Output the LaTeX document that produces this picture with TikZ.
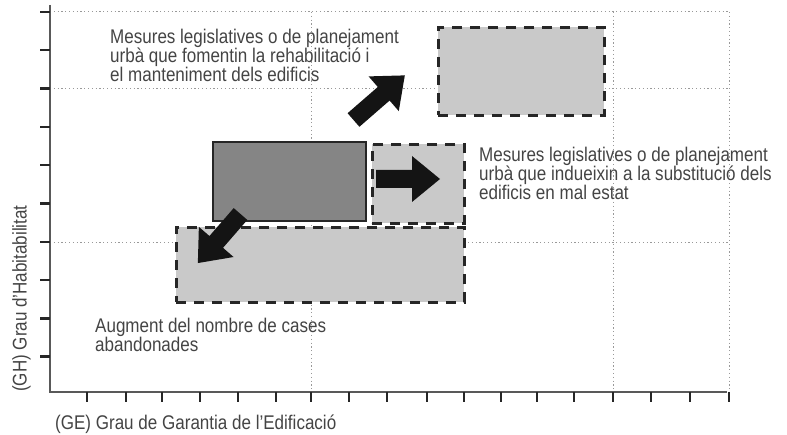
\documentclass[tikz,border=0pt]{standalone}
\usepackage{fontspec}
\setmainfont{Liberation Sans}[FakeStretch=0.86]
\definecolor{txt}{HTML}{444444}
\definecolor{lightbox}{HTML}{C9C9C9}
\definecolor{darkbox}{HTML}{858585}
\begin{document}
\begin{tikzpicture}[x=1pt,y=-1pt,
  grid/.style={gray!80,line width=1pt,dash pattern=on 1.2pt off 2.6pt},
  axisline/.style={black!65,line width=1.3pt},
  tickline/.style={black!85,line width=2.4pt},
  dashbox/.style={draw=black!85,fill=lightbox,line width=2.6pt,dash pattern=on 10pt off 8pt},
  solidbox/.style={draw=black!85,fill=darkbox,line width=1.6pt},
  label/.style={text=txt,font=\fontsize{19.8}{18.8}\selectfont,align=left,inner sep=0pt},
  pics/blockarr/.style={code={
    \fill[black!92] (0,-9) -- ({#1-28},-9) -- ({#1-28},-23) -- (#1,0)
      -- ({#1-28},23) -- ({#1-28},9) -- (0,9) -- cycle;}}]
\useasboundingbox (0,0) rectangle (787,435);
% grid
\draw[grid] (50,12) -- (729,12);
\draw[grid] (50,89) -- (729,89);
\draw[grid] (50,243) -- (729,243);
\draw[grid] (311,12) -- (311,392);
\draw[grid] (613,12) -- (613,392);
\draw[grid] (729,12) -- (729,392);
% axes
\draw[axisline] (50,5) -- (50,392) -- (727,392);
\foreach \y in {12,50.3,88.6,126.9,165.2,203.5,241.8,280.1,318.4,356.7}
  \draw[tickline] (40,\y) -- (50,\y);
\foreach \x in {87,126,162,200,238,276,311,349,387,427,464,501,537,574,613,651,690,729}
  \draw[tickline] (\x,392) -- (\x,402);
% boxes
\node[dashbox,anchor=north west,minimum width=166pt,minimum height=88pt,inner sep=0pt] (goal) at (437,26) {};
\node[solidbox,anchor=north west,minimum width=153pt,minimum height=79pt,inner sep=0pt] (now) at (212,141) {};
\node[dashbox,anchor=north west,minimum width=92pt,minimum height=79pt,inner sep=0pt] (subst) at (371,143) {};
\node[dashbox,anchor=north west,minimum width=288pt,minimum height=75pt,inner sep=0pt] (aband) at (175,226) {};
% arrows
\pic[rotate=41] at (353.5,120) {blockarr=68};
\pic at (376,179) {blockarr=64};
\pic[rotate=229] at (240.5,214) {blockarr=65};
% texts
\node[label,anchor=north west] (t1) at (110,29)
  {Mesures legislatives o de planejament\\urbà que fomentin la rehabilitació i\\el manteniment dels edificis};
\node[label,anchor=north west] (t2) at (479,147)
  {Mesures legislatives o de planejament\\urbà que indueixin a la substitució dels\\edificis en mal estat};
\node[label,anchor=north west] (t3) at (95,318)
  {Augment del nombre de cases\\abandonades};
\node[label,anchor=north west] (xl) at (55,415)
  {(GE) Grau de Garantia de l’Edificació};
\node[label,anchor=north west,rotate=90] (yl) at (12,392)
  {(GH) Grau d’Habitabilitat};
\end{tikzpicture}
\end{document}
